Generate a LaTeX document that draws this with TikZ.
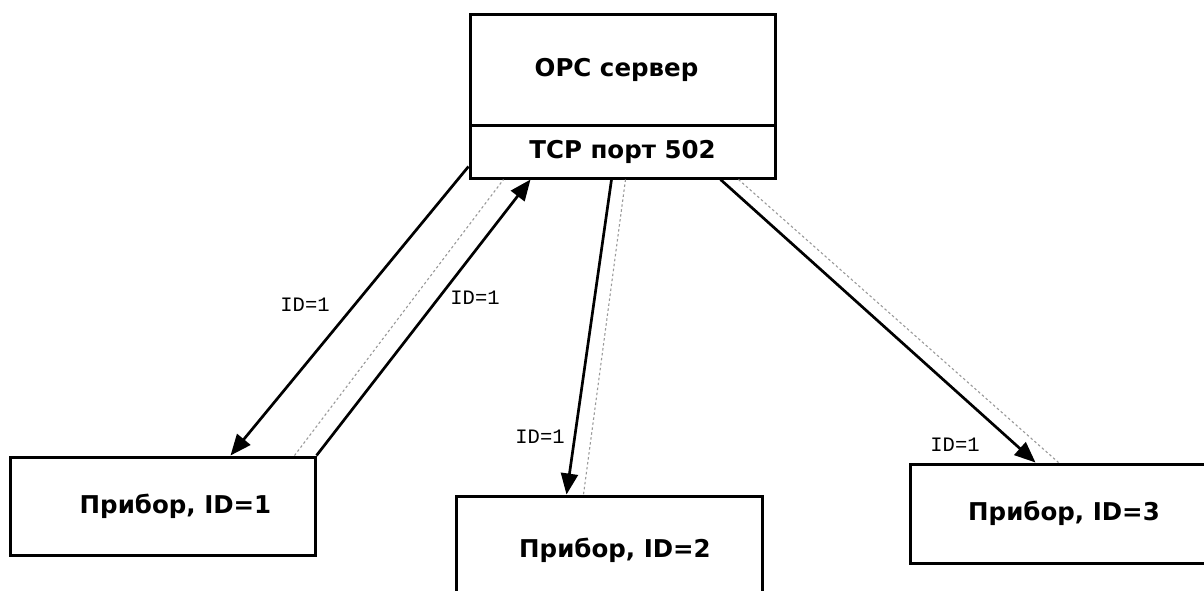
\documentclass[tikz,border=0pt]{standalone}
\usepackage{fontspec}
\setmainfont{DejaVu Sans}
\newfontfamily\labfont{Liberation Mono}
\usetikzlibrary{arrows.meta}
\tikzset{
  box/.style={draw, line width=3pt, rectangle, inner sep=0pt, font=\bfseries\fontsize{24.5}{28}\selectfont},
  conn/.style={line width=2.7pt, -{Triangle[length=21pt,width=17pt]}},
  guide/.style={draw=black!40, line width=1.1pt, dash pattern=on 2.5pt off 2.5pt},
  idlab/.style={font=\labfont\fontsize{20.5}{24}\selectfont, inner sep=0pt}
}
\begin{document}
\begin{tikzpicture}[x=1pt,y=-1pt]
\useasboundingbox (0,0) rectangle (1204,590);
\begin{scope}
\clip (0,0) rectangle (1204,590);
\node[box, minimum width=305pt, minimum height=111pt] (srv) at (622.5,69.5) {\hspace*{-12pt}OPC сервер};
\node[box, minimum width=305pt, minimum height=53pt] (port) at (622.5,151.5) {TCP порт 502};
\node[box, minimum width=305pt, minimum height=98pt] (d1) at (162.5,506) {\hspace*{26pt}Прибор, ID=1};
\node[box, minimum width=306pt, minimum height=108pt] (d2) at (609,550) {\hspace*{12pt}Прибор, ID=2};
\node[box, minimum width=308pt, minimum height=99pt] (d3) at (1064,513.5) {Прибор, ID=3};
\end{scope}
% guide lines
\draw[guide] ([xshift=-22pt]d1.north east) -- ([xshift=35pt]port.south west);
\draw[guide] ([xshift=157pt]port.south west) -- ([xshift=129pt]d2.north west);
\draw[guide] ([xshift=270pt]port.south west) -- ([xshift=150pt]d3.north west);
% connectors
\draw[conn] ([yshift=13pt]port.south west) -- ([xshift=222pt]d1.north west);
\draw[conn] (d1.north east) -- ([xshift=62pt]port.south west);
\draw[conn] ([xshift=143pt]port.south west) -- ([xshift=112pt]d2.north west);
\draw[conn] ([xshift=252pt]port.south west) -- ([xshift=127pt]d3.north west);
% labels
\node[idlab] (l1) at (305,305) {ID=1};
\node[idlab] (l2) at (475,298) {ID=1};
\node[idlab] (l3) at (540,437) {ID=1};
\node[idlab] (l4) at (955,445) {ID=1};
\end{tikzpicture}
\end{document}
